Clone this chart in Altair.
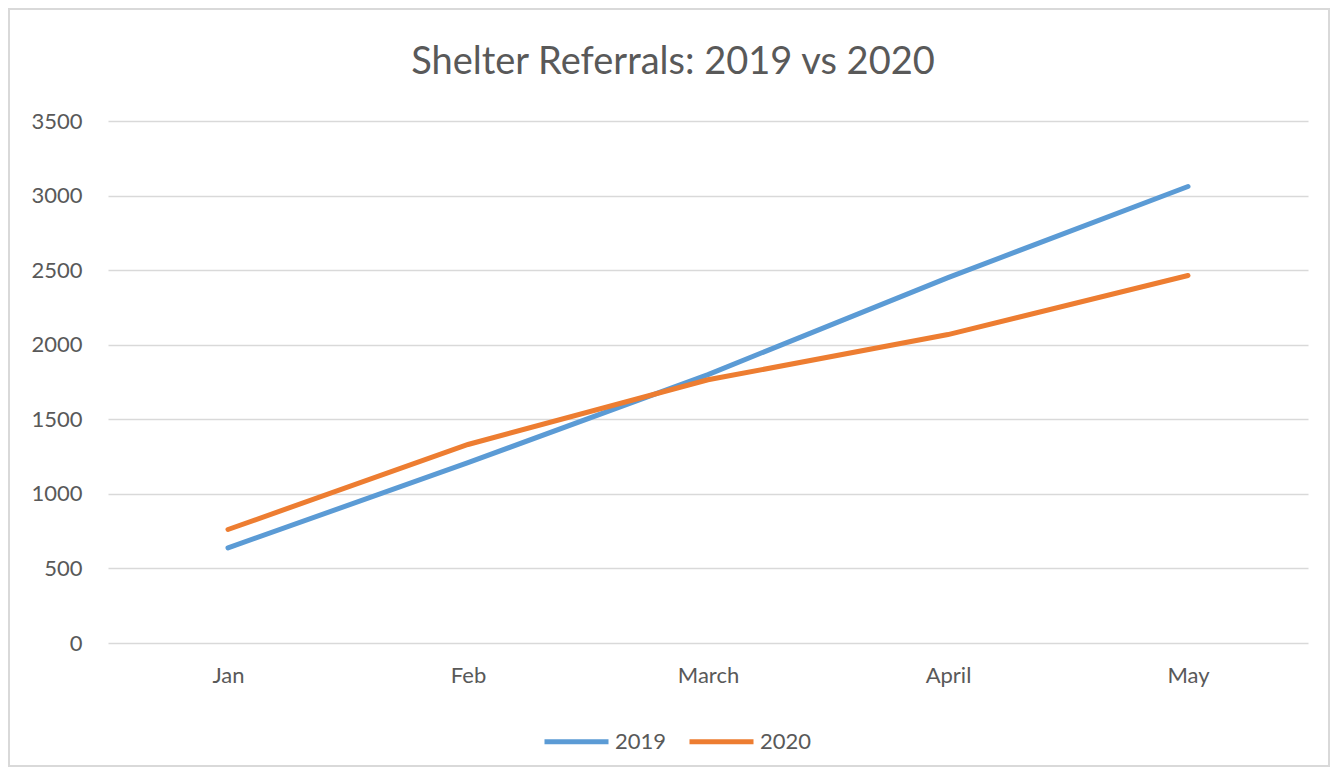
import altair as alt
import pandas as pd

title_text = "Shelter Referrals: 2019 vs 2020"
months = ["Jan", "Feb", "March", "April", "May"]
y2019 = [638, 1209, 1800, 2450, 3061]
y2020 = [761, 1331, 1765, 2068, 2464]
series = ["2019", "2020"]
colors = ["#5B9BD5", "#ED7D31"]

rows = []
for m, v in zip(months, y2019):
    rows.append({"month": m, "value": v, "year": "2019"})
for m, v in zip(months, y2020):
    rows.append({"month": m, "value": v, "year": "2020"})
df = pd.DataFrame(rows)

FONT = "Lato"
GREY = "#595959"

lines = alt.Chart(df).mark_line(strokeWidth=5, strokeCap="round").encode(
    x=alt.X("month:N", sort=months, scale=alt.Scale(padding=0.5),
            axis=alt.Axis(title=None, labelAngle=0, domain=False, ticks=False,
                          labelPadding=22, labelFontSize=22, labelColor=GREY,
                          labelFont=FONT, grid=False)),
    y=alt.Y("value:Q", scale=alt.Scale(domain=[0, 3500]),
            axis=alt.Axis(title=None, values=[0, 500, 1000, 1500, 2000, 2500, 3000, 3500],
                          format="d", domain=False, ticks=False, labelPadding=26,
                          labelFontSize=22, labelColor=GREY, labelFont=FONT,
                          gridColor="#d9d9d9", gridWidth=1.5)),
    color=alt.Color("year:N", scale=alt.Scale(domain=series, range=colors),
                    legend=alt.Legend(title=None, orient="none", direction="horizontal",
                                      legendX=434, legendY=586,
                                      symbolType="stroke", symbolSize=4096,
                                      symbolStrokeWidth=5, labelFontSize=22,
                                      labelColor=GREY, labelFont=FONT,
                                      labelOffset=4, columnPadding=12)),
)

border = alt.Chart(df).mark_rect(fillOpacity=0, stroke="#d9d9d9", strokeWidth=1.5).encode(
    x=alt.value(-99), x2=alt.value(1221), y=alt.value(-112), y2=alt.value(645)
)

title = alt.Chart(pd.DataFrame({"t": [title_text]})).mark_text(
    fontSize=38, font=FONT, color=GREY, align="center", baseline="alphabetic"
).encode(text="t:N", x=alt.value(565), y=alt.value(-47))

chart = alt.layer(border, lines, title).properties(
    width=1200, height=522,
    autosize=alt.AutoSizeParams(type="none"),
    padding={"left": 100, "top": 113, "right": 22, "bottom": 124},
).configure(background="white").configure_view(strokeWidth=0, stroke="transparent")

chart.save("out.html", embed_options={"renderer": "svg", "actions": False})
